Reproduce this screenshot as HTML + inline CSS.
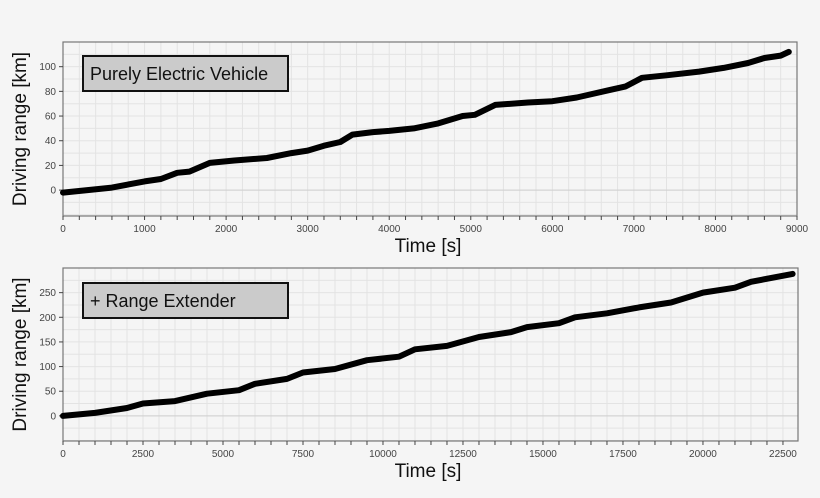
<!DOCTYPE html>
<html><head><meta charset="utf-8"><style>
html,body{margin:0;padding:0;background:#f5f5f5;}
svg{display:block;font-family:"Liberation Sans",sans-serif;}
</style></head><body>
<svg id="s" width="820" height="498" viewBox="0 0 820 498" xmlns="http://www.w3.org/2000/svg">
<rect width="820" height="498" fill="#f5f5f5"/>
</svg>
<script>
var S=document.getElementById('s'),NS='http://www.w3.org/2000/svg';
function el(t,a,txt){var e=document.createElementNS(NS,t);for(var k in a)e.setAttribute(k,a[k]);if(txt!==undefined)e.textContent=txt;S.appendChild(e);return e;}
function plot(o){
 var X=function(v){return o.x0+(v-o.xmin)*(o.x1-o.x0)/(o.xmax-o.xmin);};
 var Y=function(v){return o.yb-(v-o.ymin)*(o.yb-o.yt)/(o.ymax-o.ymin);};
 el('rect',{x:o.x0,y:o.yt,width:o.x1-o.x0,height:o.yb-o.yt,fill:'#f5f5f5'});
 for(var v=o.xmin;v<=o.xmax+1e-6;v+=o.xg){el('line',{x1:X(v),x2:X(v),y1:o.yt,y2:o.yb,stroke:'#e3e3e3','stroke-width':1});}
 for(var v=o.ygs;v<=o.ymax;v+=o.yg){el('line',{x1:o.x0,x2:o.x1,y1:Y(v),y2:Y(v),stroke:'#e3e3e3','stroke-width':1});}
 el('line',{x1:o.x0,x2:o.x1,y1:Y(0),y2:Y(0),stroke:'#cfcfcf','stroke-width':1});
 el('rect',{x:o.x0,y:o.yt,width:o.x1-o.x0,height:o.yb-o.yt,fill:'none',stroke:'#777','stroke-width':1.2});
 for(var v=o.xmin;v<=o.xmax+1e-6;v+=o.xt){el('line',{x1:X(v),x2:X(v),y1:o.yb,y2:o.yb+4,stroke:'#444','stroke-width':1});}
 o.xl.forEach(function(v){el('text',{x:X(v),y:o.yb+16,'font-size':10,fill:'#444','text-anchor':'middle'},String(v));});
 o.yl.forEach(function(v){el('line',{x1:o.x0-4,x2:o.x0,y1:Y(v),y2:Y(v),stroke:'#444'});el('text',{x:o.x0-7,y:Y(v)+3.5,'font-size':10,fill:'#444','text-anchor':'end'},String(v));});
 var d=o.pts.map(function(p,i){return (i?'L':'M')+X(p[0]).toFixed(1)+' '+Y(p[1]).toFixed(1);}).join(' ');
 el('path',{d:d,fill:'none',stroke:'#000','stroke-width':6,'stroke-linejoin':'round','stroke-linecap':'round'});
 el('rect',{x:83,y:o.by,width:205,height:35,fill:'#cbcbcb',stroke:'#111','stroke-width':2});
 el('text',{x:90,y:o.by+24,'font-size':18,fill:'#111'},o.title);
 el('text',{x:428,y:o.yb+36,'font-size':19,fill:'#111','text-anchor':'middle'},'Time [s]');
 var cy=(o.yt+o.yb)/2;
 el('text',{x:0,y:0,'font-size':19,fill:'#111','text-anchor':'middle',transform:'translate(26,'+cy+') rotate(-90)'},'Driving range [km]');
}
plot({x0:63,x1:797,yt:42,yb:216,xmin:0,xmax:9000,ymin:-21,ymax:120,xg:200,xt:200,yg:10,ygs:-20,
 xl:[0,1000,2000,3000,4000,5000,6000,7000,8000,9000],yl:[0,20,40,60,80,100],by:56,title:'Purely Electric Vehicle',
 pts:[[0,-2],[300,0],[600,2],[1000,7],[1200,9],[1400,14],[1550,15],[1800,22],[2100,24],[2500,26],[2800,30],[3000,32],[3200,36],[3400,39],[3550,45],[3800,47],[4000,48],[4300,50],[4600,54],[4900,60],[5050,61],[5300,69],[5700,71],[6000,72],[6300,75],[6700,81],[6900,84],[7100,91],[7400,93],[7800,96],[8100,99],[8400,103],[8600,107],[8800,109],[8900,112]]});
plot({x0:63,x1:798,yt:268,yb:441,xmin:0,xmax:22970,ymin:-51,ymax:300,xg:500,xt:500,yg:25,ygs:-50,
 xl:[0,2500,5000,7500,10000,12500,15000,17500,20000,22500],yl:[0,50,100,150,200,250],by:283,title:'+ Range Extender',
 pts:[[0,0],[1000,6],[2000,16],[2500,25],[3500,30],[4500,45],[5500,52],[6000,65],[7000,75],[7500,88],[8500,95],[9500,113],[10500,120],[11000,135],[12000,142],[13000,160],[14000,170],[14500,180],[15500,188],[16000,200],[17000,208],[18000,220],[19000,230],[20000,250],[21000,260],[21500,272],[22800,288]]});
</script>
</body></html>
